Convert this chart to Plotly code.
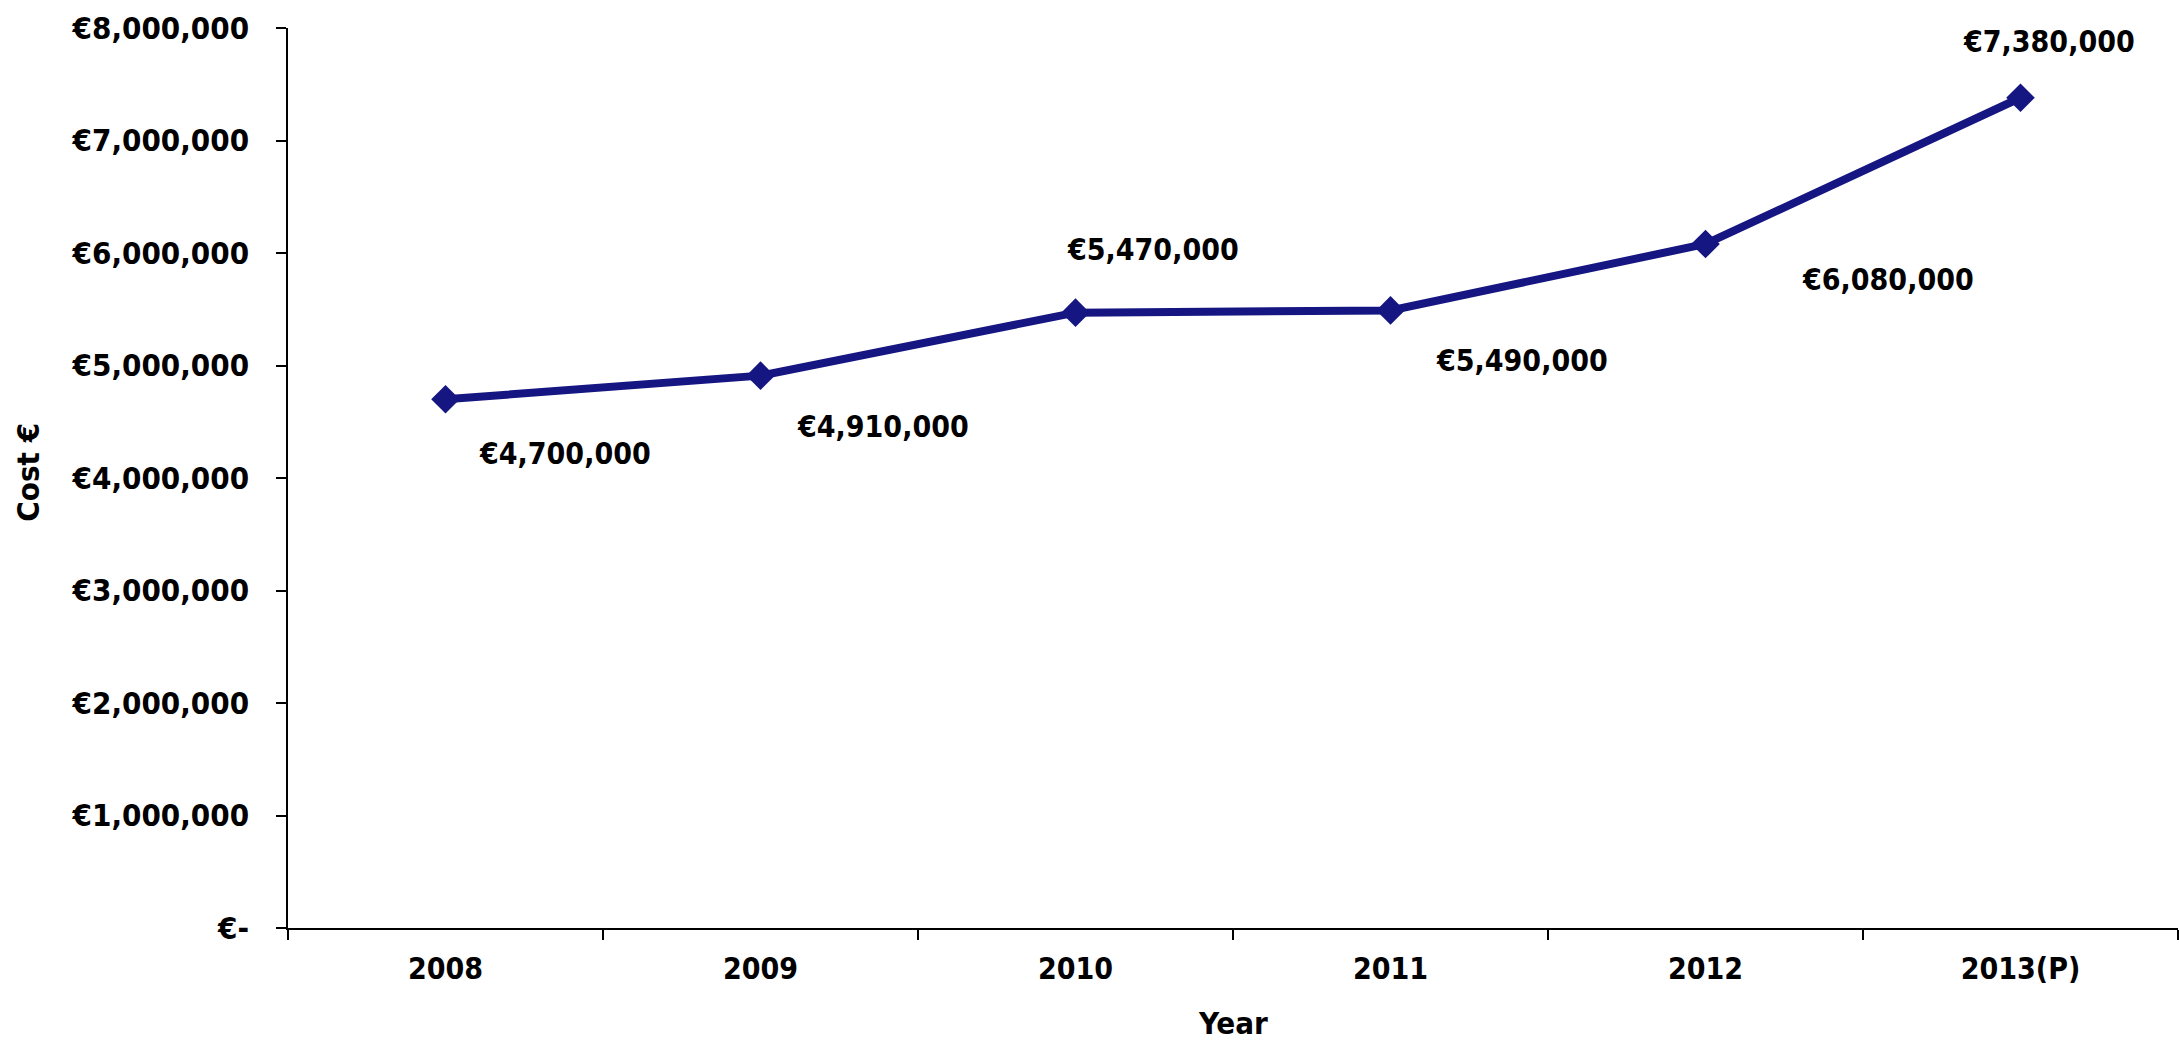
import plotly.graph_objects as go

# Annual cost data
years = ["2008", "2009", "2010", "2011", "2012", "2013(P)"]
costs = [4700000, 4910000, 5470000, 5490000, 6080000, 7380000]
labels = ["€4,700,000", "€4,910,000", "€5,470,000", "€5,490,000", "€6,080,000", "€7,380,000"]
y_tick_vals = [0, 1000000, 2000000, 3000000, 4000000, 5000000, 6000000, 7000000, 8000000]
y_tick_text = ["€-", "€1,000,000", "€2,000,000", "€3,000,000", "€4,000,000",
               "€5,000,000", "€6,000,000", "€7,000,000", "€8,000,000"]

# Pixel offsets of each value label relative to its point
label_dx = [119, 122, 77, 131, 182, 28]
label_dy = [-54, -51, 63, -50, -35, 56]

FONT = "DejaVu Sans Condensed, DejaVu Sans, sans-serif"
NAVY = "#161682"

fig = go.Figure()
fig.add_trace(go.Scatter(
    x=years, y=costs, mode="lines+markers",
    line=dict(color=NAVY, width=8),
    marker=dict(symbol="diamond", size=22, color=NAVY),
    hoverinfo="skip", showlegend=False,
))

# Value labels, placed by category index so numeric-looking names stay categories
for i, (c, t, dx, dy) in enumerate(zip(costs, labels, label_dx, label_dy)):
    fig.add_annotation(
        x=i, y=c, text=t, showarrow=False,
        xanchor="center", yanchor="middle",
        xshift=dx, yshift=dy,
        font=dict(family=FONT, size=30, color="black", weight="bold"),
    )

fig.add_annotation(
    xref="paper", yref="paper", x=-0.1376, y=0.507, text="Cost €",
    xanchor="center", yanchor="middle",
    textangle=-90, showarrow=False,
    font=dict(family=FONT, size=31, color="black", weight="bold"),
)
fig.add_annotation(
    xref="paper", yref="paper", x=0.5, y=-0.106, text="Year",
    xanchor="center", yanchor="middle",
    showarrow=False,
    font=dict(family=FONT, size=31, color="black", weight="bold"),
)

fig.update_layout(
    width=2179, height=1048,
    margin=dict(l=288, r=1, t=28, b=120),
    paper_bgcolor="white", plot_bgcolor="white",
)
fig.update_xaxes(
    type="category", range=[-0.5, 5.5],
    showline=True, linecolor="black", linewidth=1.5,
    ticks="outside", tickson="boundaries", ticklen=10, tickcolor="black", tickwidth=1.5,
    showgrid=False, zeroline=False,
    tickfont=dict(family=FONT, size=30, color="black", weight="bold"),
    ticklabelstandoff=13,
)
fig.update_yaxes(
    range=[0, 8000000], tickvals=y_tick_vals, ticktext=y_tick_text,
    showline=True, linecolor="black", linewidth=1.5,
    ticks="outside", ticklen=10, tickcolor="black", tickwidth=1.5,
    showgrid=False, zeroline=False,
    tickfont=dict(family=FONT, size=31, color="black", weight="bold"),
    ticklabelstandoff=21,
)

fig.write_html("out.html")
